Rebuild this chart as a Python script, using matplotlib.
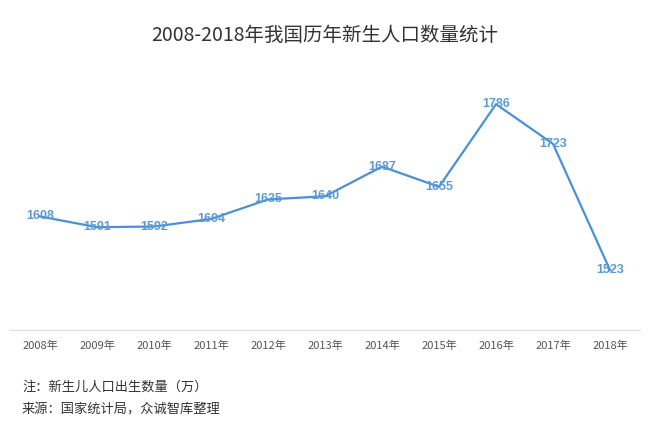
import matplotlib
matplotlib.use("Agg")
import matplotlib.pyplot as plt

plt.rcParams['font.family'] = ['Noto Sans CJK SC', 'DejaVu Sans']

# ── Data ─────────────────────────────────────────────────────────────
years  = ["2008年", "2009年", "2010年", "2011年", "2012年", "2013年",
          "2014年", "2015年", "2016年", "2017年", "2018年"]
births = [1608, 1591, 1592, 1604, 1635, 1640, 1687, 1655, 1786, 1723, 1523]

TITLE = "2008-2018年我国历年新生人口数量统计"
NOTE  = "注：新生儿人口出生数量（万）"
SRC   = "来源：国家统计局，众诚智库整理"

LINE_C = "#4a90d9"
LABEL_C = "#5b9bd5"

fig = plt.figure(figsize=(6.5, 4.42), dpi=100)
ax = fig.add_axes([10/650, 1 - 330/442, 630/650, 270/442])

xs = list(range(len(years)))
ax.plot(xs, births, color=LINE_C, linewidth=1.6)
for x, v in zip(xs, births):
    ax.text(x, v, str(v), ha="center", va="center", fontsize=9,
            fontweight="bold", color=LABEL_C, family=["Liberation Sans"])

ax.set_xlim(-0.526, len(years) - 1 + 0.526)
ax.set_ylim(1428, 1856)
ax.set_xticks(xs)
ax.set_xticklabels(years, fontsize=8, color="#555555")
ax.tick_params(axis="x", length=0, pad=8)
ax.set_yticks([])
for s in ["top", "right", "left"]:
    ax.spines[s].set_visible(False)
ax.spines["bottom"].set_color("#dddddd")

fig.text(0.5, 1 - 35/442, TITLE, ha="center", va="center", fontsize=14, color="#333333")
fig.text(22/650, 1 - 387/442, NOTE, ha="left", va="center", fontsize=9.5, color="#333333")
fig.text(22/650, 1 - 410/442, SRC, ha="left", va="center", fontsize=9.5, color="#333333")

fig.savefig("out.png", dpi=100)
